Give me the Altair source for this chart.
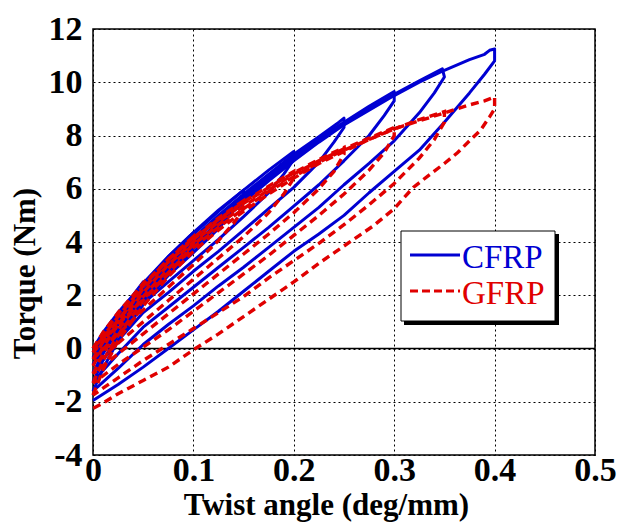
import altair as alt
import pandas as pd

# ---------------- data ----------------
# Each loop: loading branch (from previous residual) -> peak -> unloading branch back to x = 0
CFRP_005 = [(0, 0.0), (0.01, 0.6), (0.025, 1.35), (0.04, 2.0), (0.05, 2.5),
            (0.05, 2.35), (0.04, 1.85), (0.025, 1.15), (0.012, 0.55), (0, 0.0)]
CFRP_010 = [(0, 0.0), (0.01, 0.55), (0.025, 1.3), (0.05, 2.45), (0.075, 3.45), (0.1, 4.35),
            (0.1, 4.15), (0.09, 3.65), (0.075, 3.0), (0.05, 2.05), (0.025, 1.05), (0, -0.15)]
CFRP_015 = [(0, -0.15), (0.01, 0.45), (0.025, 1.2), (0.05, 2.4), (0.075, 3.45), (0.1, 4.35),
            (0.125, 5.2), (0.15, 5.95),
            (0.15, 5.75), (0.14, 5.2), (0.125, 4.5), (0.1, 3.6), (0.075, 2.75), (0.05, 1.9),
            (0.025, 0.95), (0, -0.35)]
CFRP_020 = [(0, -0.35), (0.01, 0.3), (0.025, 1.1), (0.05, 2.3), (0.075, 3.35), (0.1, 4.3),
            (0.125, 5.15), (0.15, 5.95), (0.175, 6.7), (0.2, 7.4),
            (0.2, 7.1), (0.19, 6.55), (0.175, 5.85), (0.15, 4.95), (0.125, 4.1), (0.1, 3.3),
            (0.075, 2.5), (0.05, 1.7), (0.025, 0.7), (0, -0.6)]
CFRP_025 = [(0, -0.6), (0.01, 0.05), (0.025, 0.9), (0.05, 2.15), (0.075, 3.2), (0.1, 4.15),
            (0.125, 5.0), (0.15, 5.8), (0.175, 6.55), (0.2, 7.3), (0.225, 7.95), (0.245, 8.5),
            (0.25, 8.65),
            (0.25, 8.3), (0.24, 7.75), (0.225, 7.0), (0.2, 6.05), (0.175, 5.25), (0.15, 4.45),
            (0.125, 3.65), (0.1, 2.9), (0.075, 2.1), (0.05, 1.35), (0.025, 0.3), (0, -0.9)]
CFRP_030 = [(0, -0.9), (0.01, -0.2), (0.025, 0.7), (0.05, 1.95), (0.075, 3.05), (0.1, 4.0),
            (0.125, 4.9), (0.15, 5.7), (0.175, 6.5), (0.2, 7.2), (0.225, 7.9), (0.25, 8.5),
            (0.275, 9.1), (0.3, 9.65),
            (0.3, 9.3), (0.29, 8.75), (0.275, 8.0), (0.25, 7.05), (0.225, 6.15), (0.2, 5.35),
            (0.175, 4.55), (0.15, 3.8), (0.125, 3.05), (0.1, 2.3), (0.075, 1.55), (0.05, 0.8),
            (0.025, -0.2), (0, -1.25)]
CFRP_035 = [(0, -1.25), (0.01, -0.45), (0.025, 0.5), (0.05, 1.8), (0.075, 2.9), (0.1, 3.85),
            (0.125, 4.75), (0.15, 5.6), (0.175, 6.4), (0.2, 7.15), (0.225, 7.85), (0.25, 8.45),
            (0.275, 9.0), (0.3, 9.55), (0.325, 10.05), (0.348, 10.5),
            (0.35, 10.2), (0.34, 9.6), (0.325, 8.85), (0.3, 7.8), (0.275, 6.95), (0.25, 6.15),
            (0.225, 5.3), (0.2, 4.55), (0.175, 3.8), (0.15, 3.05), (0.125, 2.35), (0.1, 1.6),
            (0.075, 0.9), (0.05, 0.15), (0.025, -0.75), (0, -1.6)]
CFRP_040 = [(0, -1.6), (0.01, -0.75), (0.025, 0.3), (0.05, 1.65), (0.075, 2.75), (0.1, 3.75),
            (0.125, 4.65), (0.15, 5.5), (0.175, 6.3), (0.2, 7.05), (0.225, 7.75), (0.25, 8.4),
            (0.275, 8.95), (0.3, 9.5), (0.325, 10.0), (0.35, 10.45), (0.375, 10.85),
            (0.39, 11.05), (0.395, 11.2), (0.4, 11.25),
            (0.4, 10.8), (0.39, 10.3), (0.375, 9.6), (0.35, 8.5), (0.325, 7.45), (0.3, 6.65),
            (0.275, 5.85), (0.25, 5.0), (0.225, 4.3), (0.2, 3.65), (0.175, 2.9), (0.15, 2.15),
            (0.125, 1.4), (0.1, 0.7), (0.075, 0.0), (0.05, -0.7), (0.025, -1.35), (0, -1.95)]

GFRP_005 = [(0, 0.0), (0.01, 0.6), (0.025, 1.35), (0.04, 2.0), (0.05, 2.45),
            (0.05, 2.25), (0.04, 1.75), (0.025, 1.05), (0.012, 0.5), (0, 0.0)]
GFRP_010 = [(0, 0.0), (0.01, 0.55), (0.025, 1.3), (0.05, 2.4), (0.075, 3.35), (0.1, 4.2),
            (0.1, 3.95), (0.09, 3.45), (0.075, 2.8), (0.05, 1.85), (0.025, 0.9), (0, -0.15)]
GFRP_015 = [(0, -0.15), (0.01, 0.45), (0.025, 1.2), (0.05, 2.35), (0.075, 3.35), (0.1, 4.15),
            (0.125, 4.9), (0.15, 5.55),
            (0.15, 5.25), (0.14, 4.7), (0.125, 4.05), (0.1, 3.15), (0.075, 2.3), (0.05, 1.45),
            (0.025, 0.55), (0, -0.4)]
GFRP_020 = [(0, -0.4), (0.01, 0.25), (0.025, 1.05), (0.05, 2.25), (0.075, 3.25), (0.1, 4.1),
            (0.125, 4.85), (0.15, 5.5), (0.175, 6.1), (0.2, 6.65),
            (0.2, 6.4), (0.19, 5.8), (0.175, 5.1), (0.15, 4.2), (0.125, 3.4), (0.1, 2.6),
            (0.075, 1.8), (0.05, 1.0), (0.025, 0.2), (0, -0.65)]
GFRP_025 = [(0, -0.65), (0.01, 0.05), (0.025, 0.9), (0.05, 2.1), (0.075, 3.15), (0.1, 4.0),
            (0.125, 4.75), (0.15, 5.45), (0.175, 6.05), (0.2, 6.6), (0.225, 7.1), (0.25, 7.55),
            (0.25, 7.3), (0.24, 6.65), (0.225, 6.0), (0.2, 5.1), (0.175, 4.3), (0.15, 3.55),
            (0.125, 2.8), (0.1, 2.05), (0.075, 1.3), (0.05, 0.55), (0.025, -0.2), (0, -0.95)]
GFRP_030 = [(0, -0.95), (0.01, -0.2), (0.025, 0.7), (0.05, 1.95), (0.075, 3.0), (0.1, 3.9),
            (0.125, 4.65), (0.15, 5.35), (0.175, 5.95), (0.2, 6.55), (0.225, 7.05), (0.25, 7.5),
            (0.275, 7.9), (0.3, 8.3),
            (0.3, 8.0), (0.29, 7.35), (0.275, 6.7), (0.25, 5.8), (0.225, 5.0), (0.2, 4.25),
            (0.175, 3.5), (0.15, 2.8), (0.125, 2.1), (0.1, 1.4), (0.075, 0.7), (0.05, 0.05),
            (0.025, -0.6), (0, -1.3)]
GFRP_035 = [(0, -1.3), (0.01, -0.45), (0.025, 0.5), (0.05, 1.8), (0.075, 2.85), (0.1, 3.8),
            (0.125, 4.55), (0.15, 5.25), (0.175, 5.9), (0.2, 6.45), (0.225, 7.0), (0.25, 7.45),
            (0.275, 7.85), (0.3, 8.25), (0.325, 8.6), (0.35, 8.9),
            (0.35, 8.5), (0.34, 7.85), (0.325, 7.15), (0.3, 6.2), (0.275, 5.4), (0.25, 4.65),
            (0.225, 3.95), (0.2, 3.3), (0.175, 2.65), (0.15, 1.95), (0.125, 1.35), (0.1, 0.75),
            (0.075, 0.15), (0.05, -0.45), (0.025, -1.1), (0, -1.75)]
GFRP_040 = [(0, -1.75), (0.01, -0.8), (0.025, 0.3), (0.05, 1.6), (0.075, 2.7), (0.1, 3.65),
            (0.125, 4.45), (0.15, 5.15), (0.175, 5.8), (0.2, 6.4), (0.225, 6.95), (0.25, 7.4),
            (0.275, 7.85), (0.3, 8.25), (0.325, 8.55), (0.35, 8.85), (0.375, 9.15),
            (0.39, 9.3), (0.4, 9.45),
            (0.4, 9.0), (0.395, 8.7), (0.386, 8.2), (0.375, 7.8), (0.363, 7.35), (0.35, 6.95),
            (0.336, 6.55), (0.319, 6.05), (0.3, 5.25), (0.279, 4.6), (0.25, 3.85), (0.225, 3.2),
            (0.2, 2.5), (0.175, 1.85), (0.15, 1.2), (0.125, 0.55), (0.1, -0.05), (0.075, -0.7),
            (0.05, -1.2), (0.025, -1.7), (0.01, -2.05), (0, -2.25)]

CFRP_LOOPS = [CFRP_005, CFRP_010, CFRP_015, CFRP_020, CFRP_025, CFRP_030, CFRP_035, CFRP_040]
GFRP_LOOPS = [GFRP_005, GFRP_010, GFRP_015, GFRP_020, GFRP_025, GFRP_030, GFRP_035, GFRP_040]
SERIES = ["CFRP", "GFRP"]
X_TICKS = [0, 0.1, 0.2, 0.3, 0.4, 0.5]
Y_TICKS = [-4, -2, 0, 2, 4, 6, 8, 10, 12]
ZERO_LINE = [0]

BLUE = "#0000d2"
RED = "#e00000"
FONT = "Liberation Serif"


def to_frame(loops, name):
    rows = []
    for li, loop in enumerate(loops):
        for oi, (xv, tv) in enumerate(loop):
            rows.append({"series": name, "loop": f"{name}{li}", "order": oi, "x": xv, "T": tv})
    return pd.DataFrame(rows)


cfrp_df = to_frame(CFRP_LOOPS, SERIES[0])
gfrp_df = to_frame(GFRP_LOOPS, SERIES[1])

x_enc = alt.X("x:Q", scale=alt.Scale(domain=[0, 0.5], nice=False, zero=False),
              axis=alt.Axis(values=X_TICKS, title="Twist angle (deg/mm)",
                            labelExpr="datum.value == 0 ? '0' : format(datum.value, '.1f')",
                            labelFlush=False, labelPadding=-2,
                            titleX=233, titleY=59, titleAlign="center", titleBaseline="alphabetic"))
y_enc = alt.Y("T:Q", scale=alt.Scale(domain=[-4, 12], nice=False, zero=False),
              axis=alt.Axis(values=Y_TICKS, title="Torque (Nm)",
                            labelExpr="datum.value + ''",
                            labelFlush=False, labelPadding=11,
                            titleX=-68, titleY=244, titleAngle=270, titleAlign="center",
                            titleBaseline="middle"))

zero = alt.Chart(pd.DataFrame({"T": ZERO_LINE})).mark_rule(color="black", strokeWidth=1.3).encode(y=y_enc)

cfrp = alt.Chart(cfrp_df).mark_line(color=BLUE, strokeWidth=3, strokeJoin="round").encode(
    x=x_enc, y=y_enc, detail="loop:N", order="order:Q")
gfrp = alt.Chart(gfrp_df).mark_line(color=RED, strokeWidth=3.4, strokeDash=[8, 5]).encode(
    x=x_enc, y=y_enc, detail="loop:N", order="order:Q")

# legend box (drawn by hand, pixel positions within the plot area)
shadow = alt.Chart(pd.DataFrame({"k": [0]})).mark_rect(color="black").encode(
    x=alt.value(311), x2=alt.value(466), y=alt.value(205), y2=alt.value(296))
box = alt.Chart(pd.DataFrame({"k": [0]})).mark_rect(fill="white", stroke="black", strokeWidth=1).encode(
    x=alt.value(308), x2=alt.value(462), y=alt.value(202), y2=alt.value(292))
leg_line_c = alt.Chart(pd.DataFrame({"label": [SERIES[0]]})).mark_rule(color=BLUE, strokeWidth=3).encode(
    x=alt.value(317), x2=alt.value(367), y=alt.value(226))
leg_line_g = alt.Chart(pd.DataFrame({"label": [SERIES[1]]})).mark_rule(
    color=RED, strokeWidth=3, strokeDash=[8, 4]).encode(
    x=alt.value(317), x2=alt.value(367), y=alt.value(262))
leg_text_c = alt.Chart(pd.DataFrame({"label": [SERIES[0]]})).mark_text(
    font=FONT, fontSize=33, color=BLUE, align="left", baseline="alphabetic").encode(
    x=alt.value(369), y=alt.value(239), text="label:N")
leg_text_g = alt.Chart(pd.DataFrame({"label": [SERIES[1]]})).mark_text(
    font=FONT, fontSize=33, color=RED, align="left", baseline="alphabetic").encode(
    x=alt.value(369), y=alt.value(275), text="label:N")

chart = alt.layer(zero, cfrp, gfrp, shadow, box, leg_line_c, leg_line_g, leg_text_c, leg_text_g).properties(
    width=502, height=426,
    autosize=alt.AutoSizeParams(type="none"),
    padding={"left": 93, "top": 29, "right": 22, "bottom": 72},
    background="white",
).configure_view(stroke="black", strokeWidth=1.5).configure_axis(
    grid=True, gridColor="black", gridDash=[2, 3], gridWidth=1, gridOpacity=1,
    domain=False, ticks=False,
    labelFont=FONT, labelFontSize=34, labelFontWeight="bold", labelColor="black",
    titleFont=FONT, titleFontSize=31, titleFontWeight="bold", titleColor="black",
)

chart.save("out.html", embed_options={"renderer": "svg", "actions": False})
